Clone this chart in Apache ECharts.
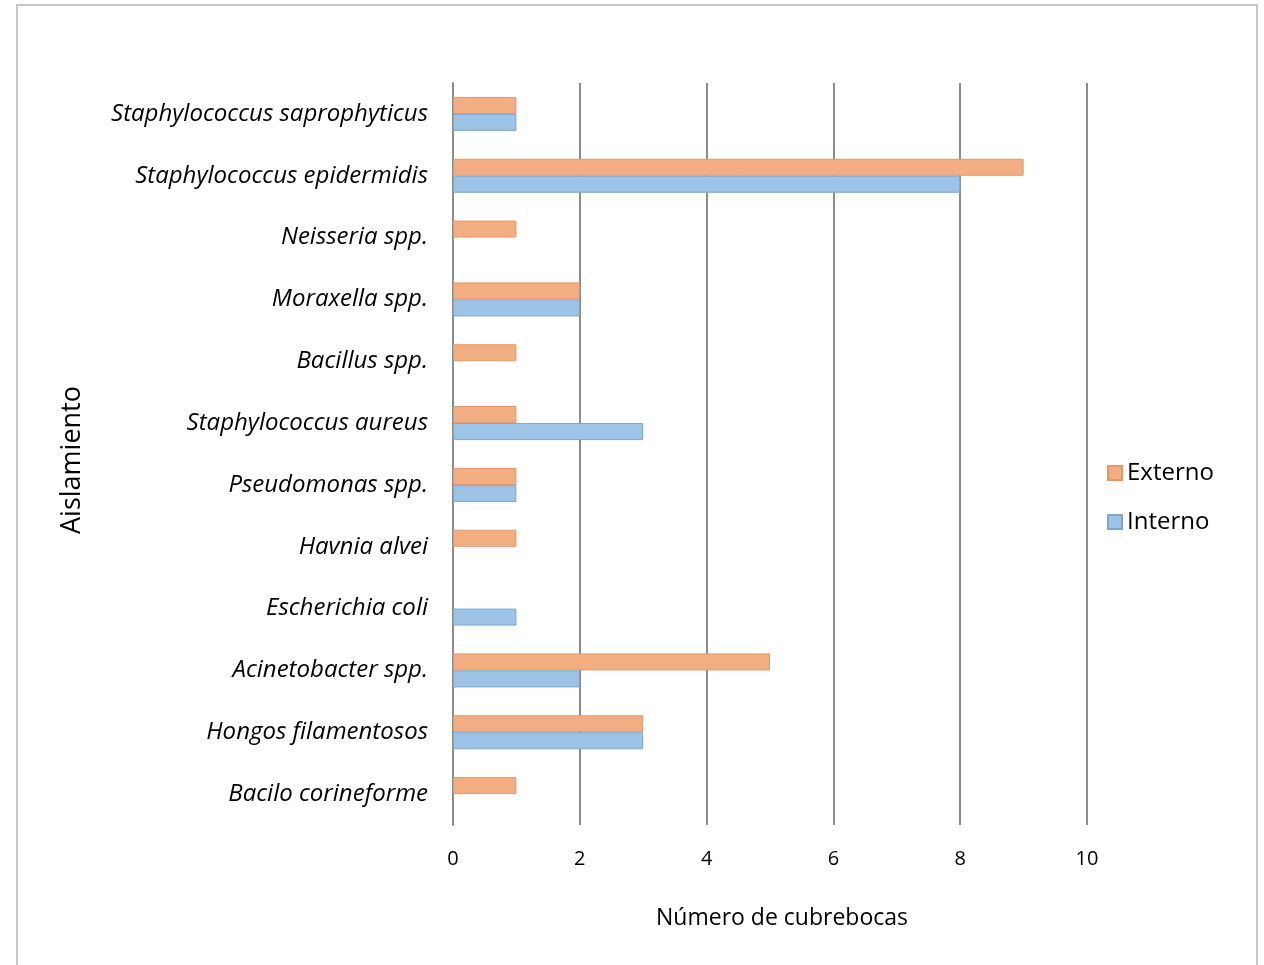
<!DOCTYPE html>
<html>
<head>
<meta charset="utf-8">
<script src="https://cdn.jsdelivr.net/npm/echarts@6/dist/echarts.min.js"></script>
<style>
  html, body { margin: 0; padding: 0; background: #fff; }
  #main { width: 1264px; height: 965px; }
</style>
</head>
<body>
<div id="main"></div>
<script>
// categories, top to bottom
var categories = [
  'Staphylococcus saprophyticus',
  'Staphylococcus epidermidis',
  'Neisseria spp.',
  'Moraxella spp.',
  'Bacillus spp.',
  'Staphylococcus aureus',
  'Pseudomonas spp.',
  'Havnia alvei',
  'Escherichia coli',
  'Acinetobacter spp.',
  'Hongos filamentosos',
  'Bacilo corineforme'
]
var externo = [1, 9, 1, 2, 1, 1, 1, 1, 0, 5, 3, 1]
var interno = [1, 8, 0, 2, 0, 3, 1, 0, 1, 2, 3, 0]

var fontFam = "'Open Sans', sans-serif"

// zero counts draw no bar at all
const noZero = arr => arr.map(v => (v === 0 ? '-' : v))

var myChart = echarts.init(document.getElementById('main'))
myChart.setOption({
  animation: false,
  textStyle: { fontFamily: fontFam },
  graphic: [{
    type: 'rect',
    shape: { x: 17, y: 5, width: 1240, height: 980 },
    style: { fill: 'none', stroke: '#c8c8c8', lineWidth: 2 },
    silent: true
  }],
  grid: { left: 453, right: 177, top: 83, bottom: 140 },
  legend: {
    orient: 'vertical',
    left: 1102,
    top: 456,
    itemWidth: 14,
    itemHeight: 14,
    itemGap: 25,
    icon: 'rect',
    textStyle: { fontSize: 24, color: '#000', fontFamily: fontFam },
    data: ['Externo', 'Interno']
  },
  xAxis: {
    type: 'value',
    min: 0,
    max: 10,
    interval: 2,
    name: 'Número de cubrebocas',
    nameLocation: 'middle',
    nameGap: 82,
    nameTextStyle: { fontSize: 23, color: '#000', fontFamily: fontFam, padding: [0, 0, 0, 24] },
    axisLine: { show: false },
    axisTick: { show: false },
    axisLabel: { fontSize: 20, color: '#000', margin: 24 },
    splitLine: { lineStyle: { color: '#8c8c8c', width: 2 } }
  },
  yAxis: {
    type: 'category',
    inverse: true,
    data: categories,
    name: 'Aislamiento',
    nameLocation: 'middle',
    nameGap: 367,
    nameTextStyle: { fontSize: 27, color: '#000', fontFamily: fontFam, padding: [0, 12, 0, 0] },
    axisLine: { show: true, lineStyle: { color: '#8c8c8c', width: 2 } },
    axisTick: { show: false },
    axisLabel: { fontSize: 24, fontStyle: 'italic', color: '#000', margin: 25 }
  },
  series: [
    {
      name: 'Externo',
      type: 'bar',
      barWidth: 17,
      barGap: '0%',
      data: noZero(externo),
      itemStyle: { color: '#f2ae82', borderColor: '#e3986a', borderWidth: 1 }
    },
    {
      name: 'Interno',
      type: 'bar',
      barWidth: 17,
      barGap: '0%',
      data: noZero(interno),
      itemStyle: { color: '#9dc3e6', borderColor: '#7ea7cc', borderWidth: 1 }
    }
  ]
})
</script>
</body>
</html>
